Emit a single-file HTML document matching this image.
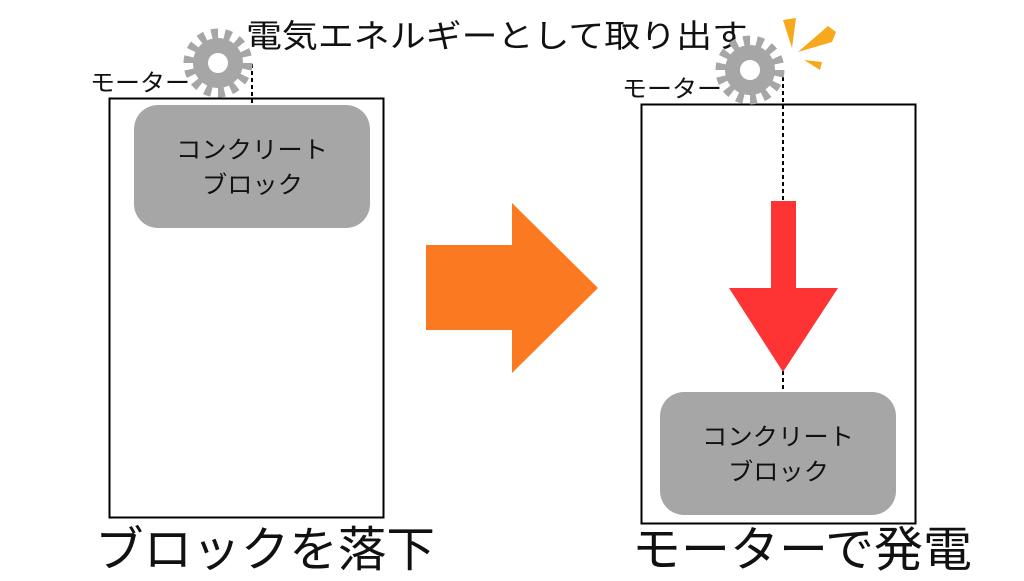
<!DOCTYPE html>
<html><head><meta charset="utf-8"><style>
body{margin:0;background:#fff;width:1024px;height:576px;overflow:hidden}
text{font-family:"Liberation Sans","Noto Sans CJK JP",sans-serif;fill:#111}
</style></head><body>
<svg width="1024" height="576" viewBox="0 0 1024 576" xmlns="http://www.w3.org/2000/svg">
<defs>
<g id="gear">
<circle r="25" fill="#a6a6a6"/>
<circle r="29" fill="none" stroke="#a6a6a6" stroke-width="11" stroke-dasharray="6.5 6.5"/>
<circle r="10" fill="#fff"/>
</g>
</defs>
<text x="246" y="47" font-size="32" textLength="502" lengthAdjust="spacingAndGlyphs">電気エネルギーとして取り出す</text>
<!-- left -->
<rect x="109.5" y="98.5" width="274" height="419" fill="none" stroke="#000" stroke-width="2"/>
<line x1="252" y1="64" x2="252" y2="105" stroke="#000" stroke-width="2" stroke-dasharray="4 3"/>
<rect x="134" y="105" width="236" height="123" rx="24" fill="#a6a6a6"/>
<text x="176" y="158" font-size="24" textLength="152" lengthAdjust="spacingAndGlyphs">コンクリート</text>
<text x="202" y="193" font-size="24" textLength="101" lengthAdjust="spacingAndGlyphs">ブロック</text>
<use href="#gear" x="218" y="63"/>
<text x="90" y="91" font-size="24" textLength="100" lengthAdjust="spacingAndGlyphs">モーター</text>
<!-- orange arrow -->
<polygon points="426,245 512,245 512,203 598,288 512,373 512,330 426,330" fill="#fb7a21"/>
<!-- right -->
<rect x="641.5" y="104.5" width="274" height="419" fill="none" stroke="#000" stroke-width="2"/>
<line x1="783" y1="70" x2="783" y2="392" stroke="#000" stroke-width="2" stroke-dasharray="4 3"/>
<polygon points="771,201 796,201 796,288 838,288 783,372 729,288 771,288" fill="#fe3333"/>
<rect x="660" y="392" width="236" height="123" rx="24" fill="#a6a6a6"/>
<text x="702" y="445" font-size="24" textLength="152" lengthAdjust="spacingAndGlyphs">コンクリート</text>
<text x="728" y="480" font-size="24" textLength="101" lengthAdjust="spacingAndGlyphs">ブロック</text>
<use href="#gear" x="750" y="70"/>
<text x="622" y="97" font-size="24" textLength="100" lengthAdjust="spacingAndGlyphs">モーター</text>
<!-- spark -->
<polygon points="783,20 796,18 792,48" fill="#f7a81b"/>
<polygon points="798,52 828,26 836,32 832,42" fill="#f7a81b"/>
<polygon points="804,60 822,62 820,70" fill="#f7a81b"/>
<text x="95" y="566" font-size="48" textLength="340" lengthAdjust="spacingAndGlyphs">ブロックを落下</text>
<text x="632" y="566" font-size="48" textLength="340" lengthAdjust="spacingAndGlyphs">モーターで発電</text>
</svg>
</body></html>
